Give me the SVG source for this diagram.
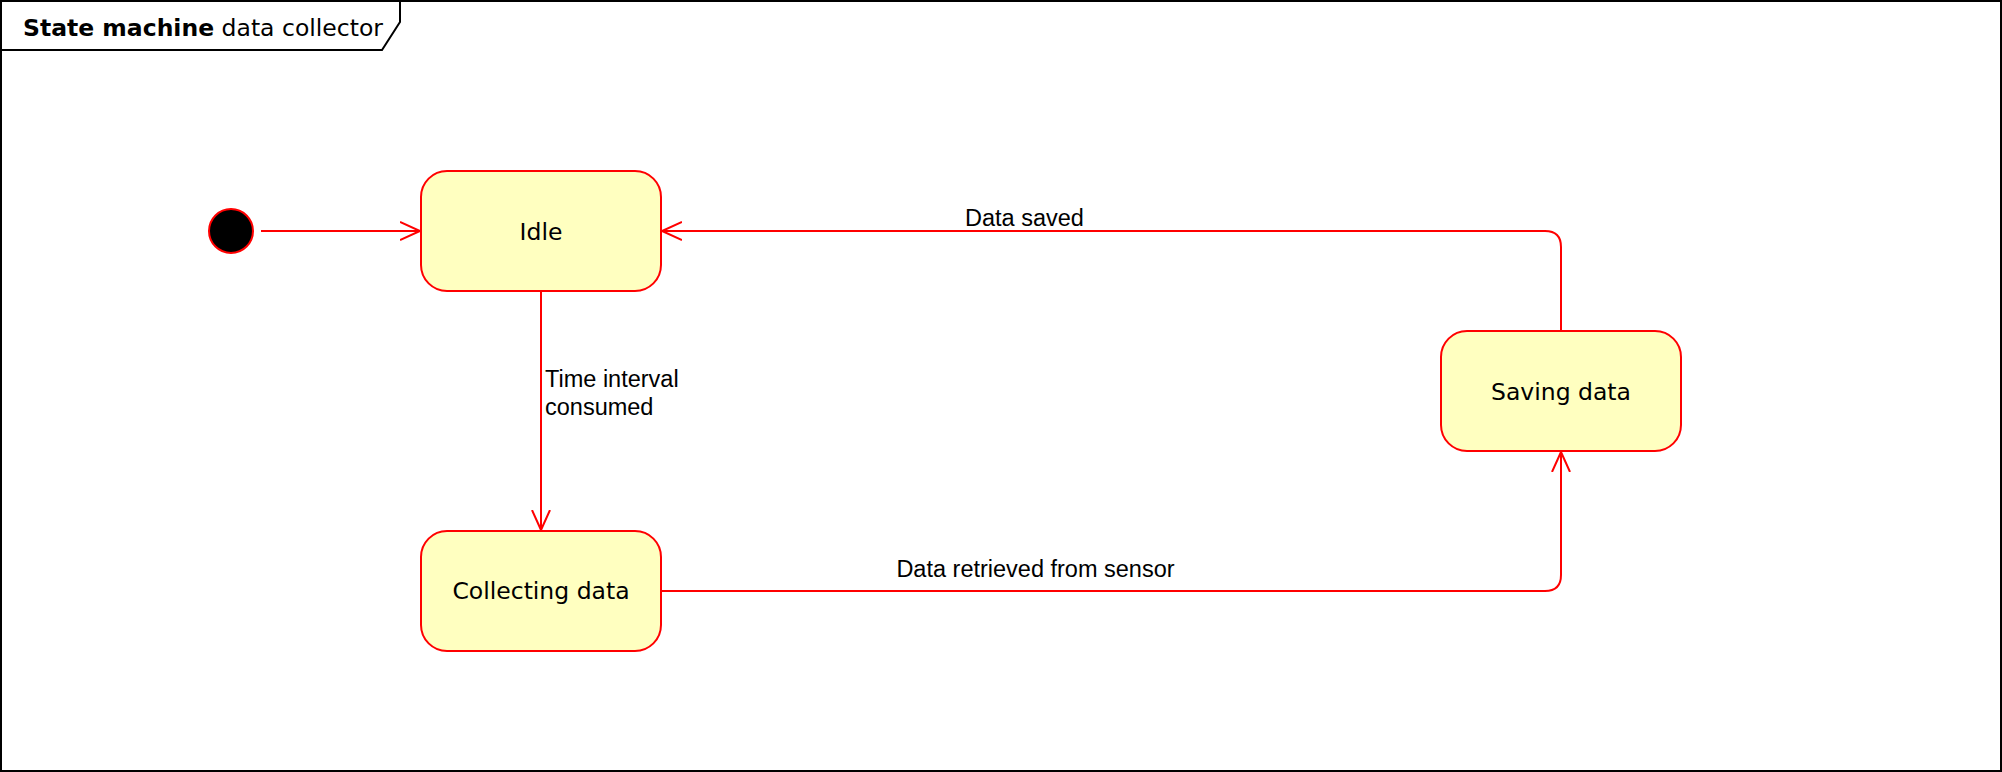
<svg xmlns="http://www.w3.org/2000/svg" width="2002" height="772" viewBox="0 0 2002 772">
<style>
.state{fill:#FFFFC0;stroke:#FF0000;stroke-width:2}
.stxt{font-family:"DejaVu Sans",Verdana,sans-serif;font-size:23.5px;fill:#000;text-anchor:middle}
.edge{fill:none;stroke:#FF0000;stroke-width:2}
.ltxt{font-family:"Liberation Sans",Arial,sans-serif;font-size:23.5px;fill:#000}
</style>
<defs>
<marker id="open" viewBox="0 0 24 24" refX="20" refY="12" markerWidth="24" markerHeight="24" markerUnits="userSpaceOnUse" orient="auto">
<path d="M0,3 L20,12 L0,21" fill="none" stroke="#FF0000" stroke-width="2"/>
</marker>
</defs>
<g id="frame">
<rect x="1" y="1" width="2000" height="770" fill="#FFFFFF" stroke="#000" stroke-width="2"/>
<path d="M1,50 L382,50 L400,22 L400,1" fill="none" stroke="#000" stroke-width="2"/>
<text x="23" y="36" font-family="'DejaVu Sans',Verdana,sans-serif" font-size="23.5" fill="#000"><tspan font-weight="bold">State machine</tspan> data collector</text>
</g>
<g id="connectors">
<path class="edge" d="M261,231 L420,231" marker-end="url(#open)"/>
<path class="edge" d="M541,291 L541,530" marker-end="url(#open)"/>
<path class="edge" d="M661,591 L1545,591 Q1561,591 1561,575 L1561,452" marker-end="url(#open)"/>
<path class="edge" d="M1561,331 L1561,247 Q1561,231 1545,231 L662,231" marker-end="url(#open)"/>
<text class="ltxt" x="545" y="387">Time interval</text>
<text class="ltxt" x="545" y="415">consumed</text>
<text class="ltxt" x="1035.5" y="577" text-anchor="middle">Data retrieved from sensor</text>
<text class="ltxt" x="1024.5" y="226" text-anchor="middle">Data saved</text>
</g>
<g id="initial">
<circle cx="231" cy="231" r="22" fill="#000" stroke="#FF0000" stroke-width="2"/>
</g>
<g id="idle">
<rect class="state" x="421" y="171" width="240" height="120" rx="26" ry="26"/>
<text class="stxt" x="541" y="240">Idle</text>
</g>
<g id="collecting">
<rect class="state" x="421" y="531" width="240" height="120" rx="26" ry="26"/>
<text class="stxt" x="541" y="599">Collecting data</text>
</g>
<g id="saving">
<rect class="state" x="1441" y="331" width="240" height="120" rx="26" ry="26"/>
<text class="stxt" x="1561" y="400">Saving data</text>
</g>
</svg>
